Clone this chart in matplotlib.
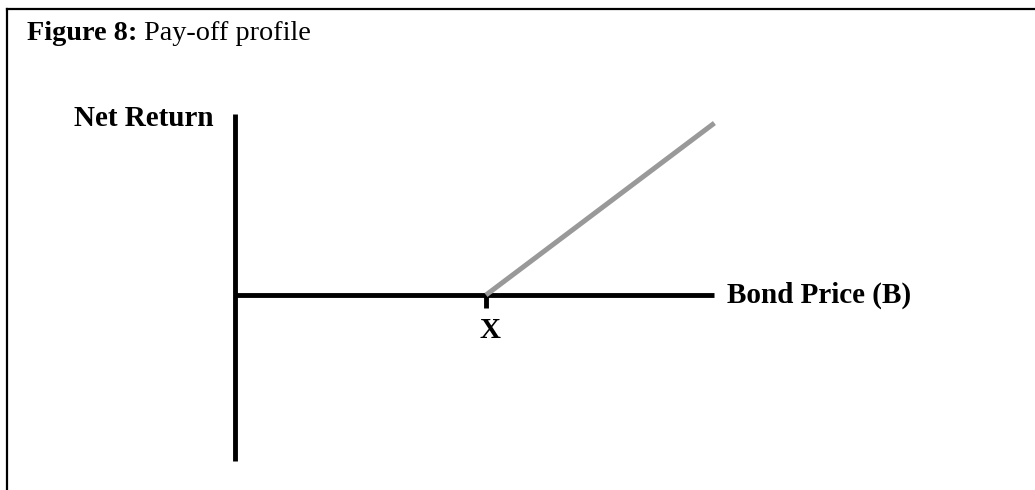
# Pay-off profile (long call on bond price) - schematic diagram
import matplotlib.pyplot as plt
from matplotlib.lines import Line2D

plt.rcParams['font.family'] = ['Liberation Serif', 'DejaVu Serif']

# payoff data, in units of the strike price X
price_axis = [0.0, 1.91]        # horizontal axis extent (bond price)
return_axis = [-0.66, 0.72]     # vertical axis extent (net return)
strike = 1.0
payoff_x = [1.0, 1.91]
payoff_y = [0.0, 0.685]

title_bold = "Figure 8:"
title_rest = " Pay-off profile"
ylabel = "Net Return"
xlabel = "Bond Price (B)"
strike_label = "X"

W, H = 1035, 490
fig = plt.figure(figsize=(W / 100, H / 100), dpi=100)
ax = fig.add_axes([0, 0, 1, 1])

# origin at pixel (235, 295), one unit = 251 px
ox, oy, unit = 235, 295, 251
ax.set_xlim(-ox / unit, (W - ox) / unit)
ax.set_ylim((oy - H) / unit, oy / unit)
ax.axis('off')

lw = 3.5
ax.plot(price_axis, [0, 0], color='black', lw=lw, solid_capstyle='butt')
ax.plot([0, 0], return_axis, color='black', lw=lw, solid_capstyle='butt')
ax.plot([strike, strike], [0, -0.05], color='black', lw=lw, solid_capstyle='butt')
ax.plot(payoff_x, payoff_y, color='#999999', lw=3.6, solid_capstyle='butt')

# labels
ax.text(-0.085, 0.705, ylabel, fontsize=21, fontweight='bold',
        ha='right', va='center')
ax.text(1.96, 0.0, xlabel, fontsize=21, fontweight='bold',
        ha='left', va='center')
ax.text(strike + 0.016, -0.14, strike_label, fontsize=21, fontweight='bold',
        ha='center', va='center')

# frame (top and left only)
fig.add_artist(Line2D([7 / W, 1], [1 - 9 / H, 1 - 9 / H], color='black', lw=1.6))
fig.add_artist(Line2D([7 / W, 7 / W], [0, 1 - 9 / H], color='black', lw=1.6))

# title: bold part then regular part
t1 = fig.text(27 / W, 1 - 33 / H, title_bold, fontsize=20.3, fontweight='bold',
              ha='left', va='center')
fig.canvas.draw()
bb = t1.get_window_extent()
fig.text(bb.x1 / W, 1 - 33 / H, title_rest, fontsize=20.3, ha='left', va='center')

fig.savefig('out.png', dpi=100)
